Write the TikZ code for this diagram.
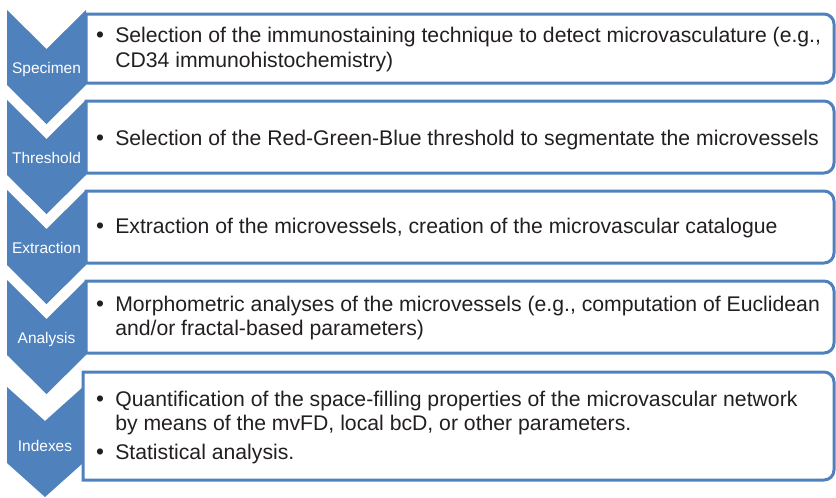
\documentclass[tikz,border=0pt]{standalone}
\usepackage{fontspec}
\setmainfont{Liberation Sans}
\usepackage{tikz}
\definecolor{stageblue}{RGB}{79,129,189}
\definecolor{textgray}{RGB}{35,31,32}
\tikzstyle{chevron} = [fill = stageblue, draw = none]
\tikzstyle{panel} = [line width = 2.25pt, draw = stageblue, fill = white]
\tikzstyle{stagename} = [text = white, font = \fontsize{11.6}{14}\selectfont, inner sep = 0pt, anchor = base]
\tikzstyle{itemtext} = [text = textgray, font = \fontsize{15.9}{18}\selectfont, inner sep = 0pt, anchor = base west]
\tikzstyle{bulletmark} = [text = textgray, font = \fontsize{17}{18}\selectfont, inner sep = 0pt, anchor = base]

\begin{document}
\begin{tikzpicture}[x = 0.75pt, y = -0.75pt]
		% Размеры
		\pgfmathsetmacro{\xL}{7}
		\pgfmathsetmacro{\xR}{86}
		\pgfmathsetmacro{\xM}{46.5}
		\pgfmathsetmacro{\xE}{834}
		\pgfmathsetmacro{\dep}{39}
		\pgfmathsetmacro{\rad}{10}
		\pgfmathsetmacro{\xB}{100}
		\pgfmathsetmacro{\xT}{115}
		\useasboundingbox (0, 0) rectangle (836, 497);
		% Стрелки-этапы
		\draw[chevron] (\xL, 10) -- (\xM, 10+\dep) -- (\xR, 10) -- (\xR, 85) -- (\xM, 85+\dep) -- (\xL, 85) -- cycle;
		\draw[chevron] (\xL, 100) -- (\xM, 100+\dep) -- (\xR, 100) -- (\xR, 175) -- (\xM, 175+\dep) -- (\xL, 175) -- cycle;
		\draw[chevron] (\xL, 190) -- (\xM, 190+\dep) -- (\xR, 190) -- (\xR, 265) -- (\xM, 265+\dep) -- (\xL, 265) -- cycle;
		\draw[chevron] (\xL, 280) -- (\xM, 280+\dep) -- (\xR, 280) -- (\xR, 355) -- (\xM, 355+\dep) -- (\xL, 355) -- cycle;
		\draw[chevron] (\xL, 387) -- (45, 421) -- (83, 387) -- (83, 463) -- (45, 497) -- (\xL, 463) -- cycle;
		% Рамки
		\draw[panel] (\xR, 83) -- (\xR, 14) -- (\xE-\rad, 14) arc (-90:0:\rad) -- (\xE, 83-\rad) arc (0:90:\rad) -- cycle;
		\draw[panel] (\xR, 173) -- (\xR, 101) -- (\xE-\rad, 101) arc (-90:0:\rad) -- (\xE, 173-\rad) arc (0:90:\rad) -- cycle;
		\draw[panel] (\xR, 263) -- (\xR, 191) -- (\xE-\rad, 191) arc (-90:0:\rad) -- (\xE, 263-\rad) arc (0:90:\rad) -- cycle;
		\draw[panel] (\xR, 353) -- (\xR, 281) -- (\xE-\rad, 281) arc (-90:0:\rad) -- (\xE, 353-\rad) arc (0:90:\rad) -- cycle;
		\draw[panel] (83, 480) -- (83, 372) -- (\xE-\rad, 372) arc (-90:0:\rad) -- (\xE, 480-\rad) arc (0:90:\rad) -- cycle;
		% Названия этапов
		\node[stagename] (specimen) at (\xM, 73) {Specimen};
		\node[stagename] (threshold) at (\xM, 163) {Threshold};
		\node[stagename] (extraction) at (\xM, 253) {Extraction};
		\node[stagename] (analysis) at (\xM, 343) {Analysis};
		\node[stagename] (indexes) at (45, 451) {Indexes};
		% Пункты
		\node[bulletmark] (b1) at (\xB, 42) {\textbullet};
		\node[itemtext] (t1a) at (\xT, 42) {Selection of the immunostaining technique to detect microvasculature (e.g.,};
		\node[itemtext] (t1b) at (\xT, 67) {CD34 immunohistochemistry)};
		\node[bulletmark] (b2) at (\xB, 145) {\textbullet};
		\node[itemtext] (t2) at (\xT, 145) {Selection of the Red-Green-Blue threshold to segmentate the microvessels};
		\node[bulletmark] (b3) at (\xB, 233) {\textbullet};
		\node[itemtext] (t3) at (\xT, 233) {Extraction of the microvessels, creation of the microvascular catalogue};
		\node[bulletmark] (b4) at (\xB, 311) {\textbullet};
		\node[itemtext] (t4a) at (\xT, 311) {Morphometric analyses of the microvessels (e.g., computation of Euclidean};
		\node[itemtext] (t4b) at (\xT, 335) {and/or fractal-based parameters)};
		\node[bulletmark] (b5) at (\xB, 406) {\textbullet};
		\node[itemtext] (t5a) at (\xT, 406) {Quantification of the space-filling properties of the microvascular network};
		\node[itemtext] (t5b) at (\xT, 430) {by means of the mvFD, local bcD, or other parameters.};
		\node[bulletmark] (b6) at (\xB, 459) {\textbullet};
		\node[itemtext] (t6) at (\xT, 459) {Statistical analysis.};
	\end{tikzpicture}
\end{document}
